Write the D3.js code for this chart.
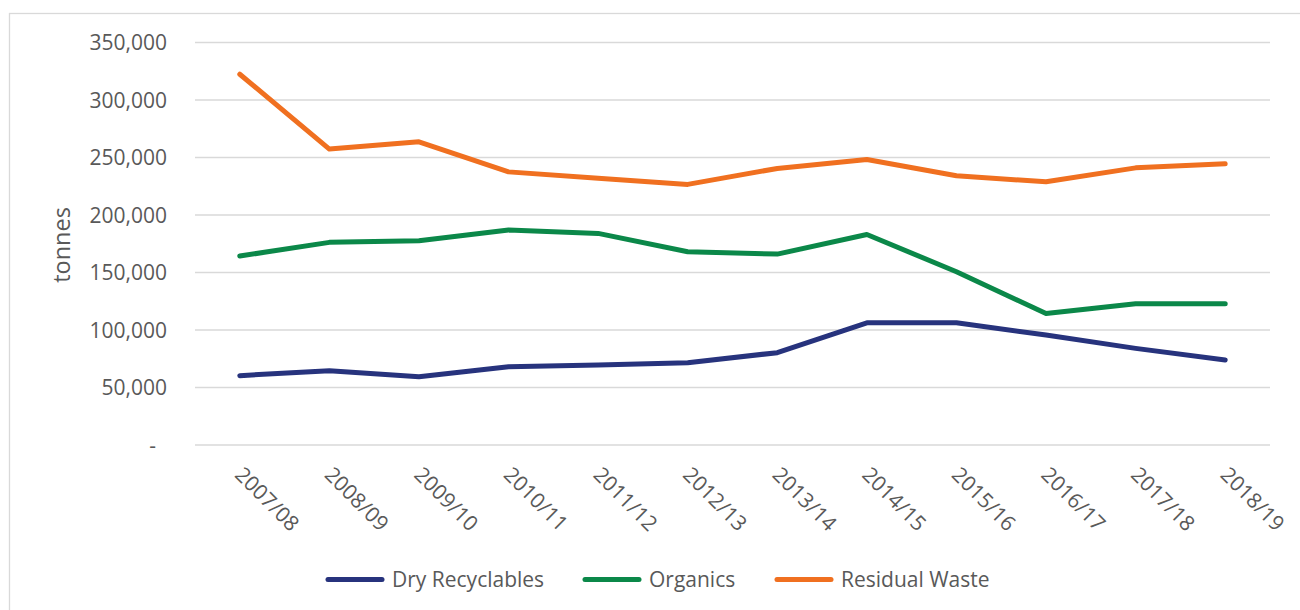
<!DOCTYPE html>
<html>
<head>
<meta charset="utf-8">
<script src="https://cdn.jsdelivr.net/npm/d3@7"></script>
<style>
  html, body { margin: 0; padding: 0; background: #ffffff; }
  svg { display: block; }
  text { font-family: "Open Sans", "DejaVu Sans", sans-serif; fill: #595959; }
</style>
</head>
<body>
<svg id="chart" width="1300" height="610"></svg>
<script>
// Financial years on the category axis
const years = ["2007/08", "2008/09", "2009/10", "2010/11", "2011/12", "2012/13",
               "2013/14", "2014/15", "2015/16", "2016/17", "2017/18", "2018/19"];

// Tonnes collected per stream
const dryRecyclables = [60300, 64600, 59400, 68100, 69500, 71600, 80300, 106300, 106300, 95600, 84000, 73900];
const organics       = [164300, 176200, 177600, 186900, 184000, 168000, 166000, 183100, 150600, 114400, 122800, 122800];
const residualWaste  = [322400, 257300, 263600, 237500, 232000, 226600, 240500, 248300, 234100, 228900, 241000, 244500];

const seriesNames  = ["Dry Recyclables", "Organics", "Residual Waste"];
const seriesValues = [dryRecyclables, organics, residualWaste];
const seriesColors = ["#27337d", "#0b8849", "#f07020"];

const yTicks = [0, 50000, 100000, 150000, 200000, 250000, 300000, 350000];

const svg = d3.select("#chart");

// Outer chart frame
svg.append("rect")
  .attr("x", 9.5).attr("y", 13.5)
  .attr("width", 1400).attr("height", 700)
  .attr("fill", "none")
  .attr("stroke", "#d9d9d9")
  .attr("stroke-width", 1.3);

const plot = { left: 195, right: 1270, top: 42.5, bottom: 445 };

const x = d3.scaleBand()
  .domain(years)
  .range([plot.left, plot.right])
  .padding(0);

const y = d3.scaleLinear()
  .domain([0, 350000])
  .range([plot.bottom, plot.top]);

// Horizontal gridlines
svg.append("g")
  .selectAll("line")
  .data(yTicks)
  .join("line")
  .attr("x1", plot.left).attr("x2", plot.right)
  .attr("y1", d => y(d)).attr("y2", d => y(d))
  .attr("stroke", "#d9d9d9")
  .attr("stroke-width", 1.5);

// Y axis labels (accounting style: zero shown as a dash)
const fmt = d3.format(",");
const yAxis = d3.axisLeft(y)
  .tickValues(yTicks)
  .tickSize(0)
  .tickPadding(0)
  .tickFormat(d => d === 0 ? "-" : fmt(d));

const yg = svg.append("g")
  .attr("transform", `translate(167,0)`)
  .call(yAxis);
yg.select(".domain").remove();
yg.selectAll("text")
  .attr("font-size", 21)
  .attr("dy", "0.35em")
  .attr("fill", "#595959")
  .style("font-family", '"Open Sans", sans-serif')
  .attr("dx", d => d === 0 ? -11 : 0);

// Y axis title
svg.append("text")
  .attr("transform", "translate(70,245) rotate(-90)")
  .attr("text-anchor", "middle")
  .attr("font-size", 23.5)
  .text("tonnes");

// X axis labels, rotated 45 degrees
const xAxis = d3.axisBottom(x).tickSize(0).tickPadding(0);
const xg = svg.append("g")
  .attr("transform", `translate(0,${plot.bottom})`)
  .call(xAxis);
xg.select(".domain").remove();
xg.selectAll(".tick text")
  .attr("font-size", 21)
  .attr("fill", "#595959")
  .style("font-family", '"Open Sans", sans-serif')
  .attr("text-anchor", "start")
  .attr("dy", 0)
  .attr("y", 0)
  .attr("transform", "translate(-6,31) rotate(45)");

// Series lines
const line = d3.line()
  .x((d, i) => x(years[i]) + x.bandwidth() / 2)
  .y(d => y(d));

svg.append("g")
  .selectAll("path")
  .data(seriesValues)
  .join("path")
  .attr("d", d => line(d))
  .attr("fill", "none")
  .attr("stroke", (d, i) => seriesColors[i])
  .attr("stroke-width", 5)
  .attr("stroke-linejoin", "round")
  .attr("stroke-linecap", "round");

// Legend
const legendItems = [
  { name: seriesNames[0], color: seriesColors[0], x: 328 },
  { name: seriesNames[1], color: seriesColors[1], x: 585 },
  { name: seriesNames[2], color: seriesColors[2], x: 777 }
];
const legend = svg.append("g");
const li = legend.selectAll("g")
  .data(legendItems)
  .join("g")
  .attr("transform", d => `translate(${d.x},579.5)`);
li.append("line")
  .attr("x1", 0).attr("x2", 54)
  .attr("y1", 0).attr("y2", 0)
  .attr("stroke", d => d.color)
  .attr("stroke-width", 5)
  .attr("stroke-linecap", "round");
li.append("text")
  .attr("x", 64)
  .attr("y", 7.5)
  .attr("font-size", 21)
  .text(d => d.name);
</script>
</body>
</html>
